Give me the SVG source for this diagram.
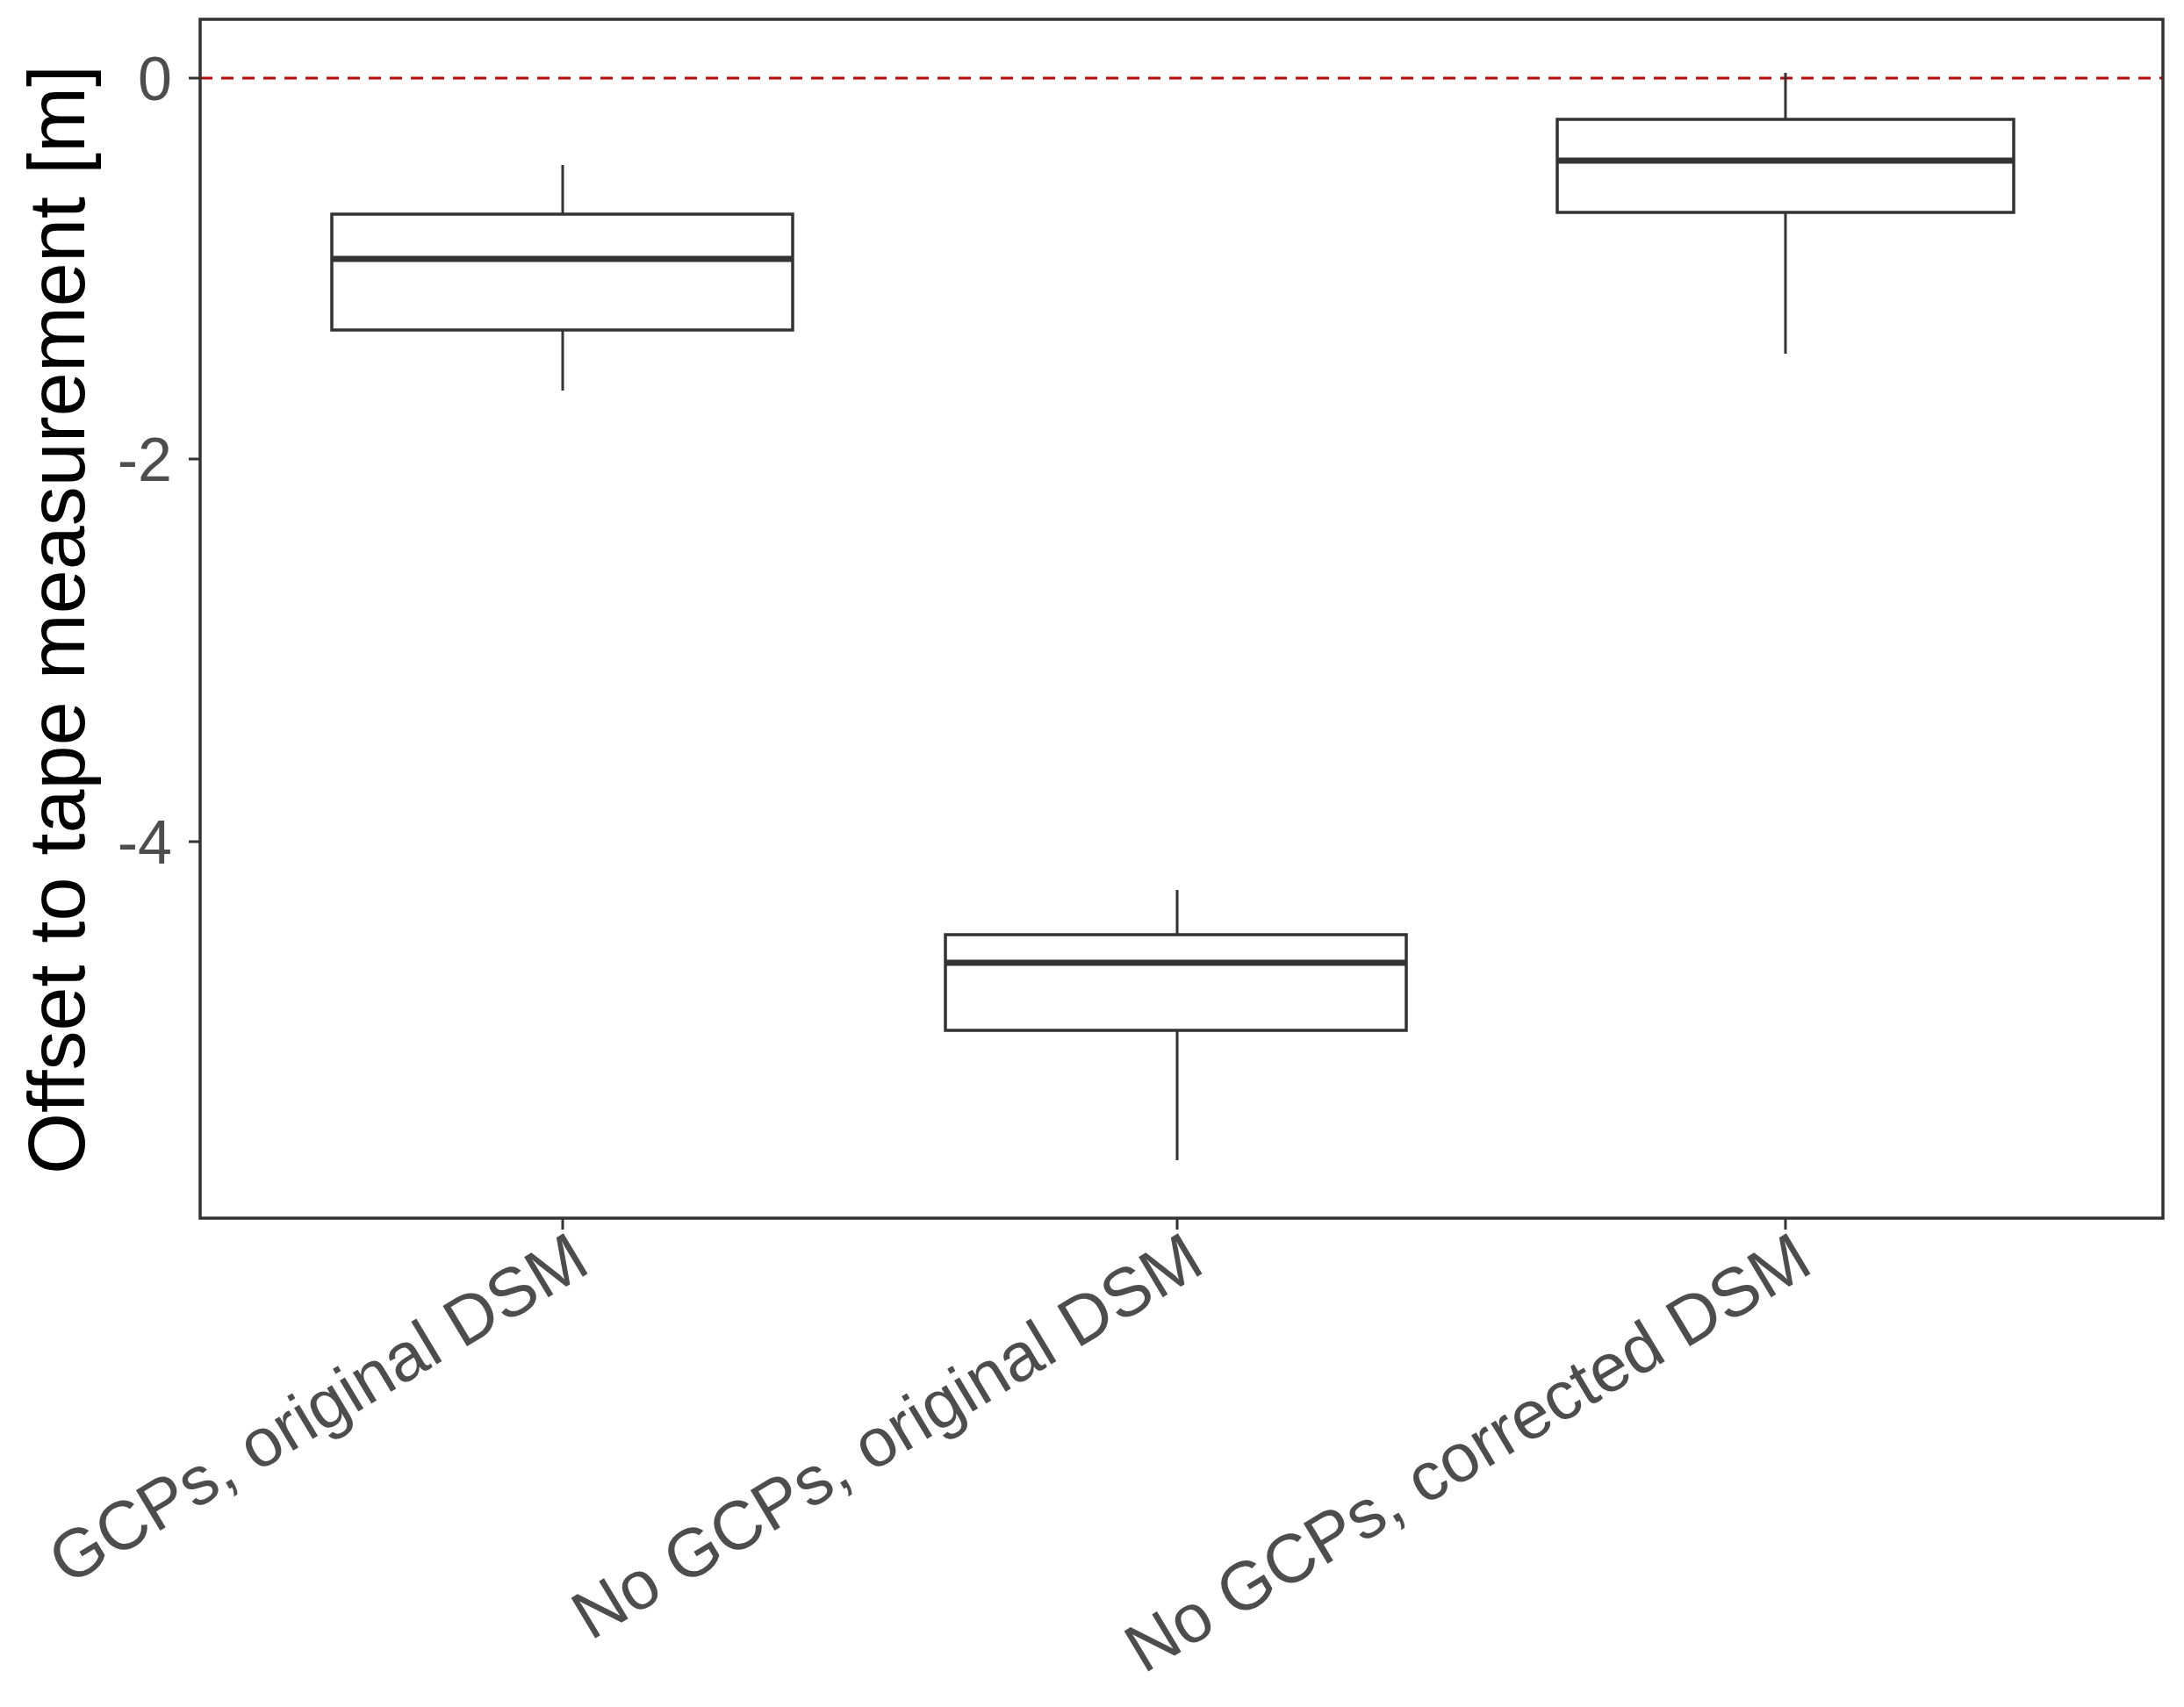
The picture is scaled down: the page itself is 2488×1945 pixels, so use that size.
<svg xmlns="http://www.w3.org/2000/svg" width="2488" height="1945" viewBox="0 0 2488 1945">
<style>
.box{fill:#fff;stroke:#333;stroke-width:3.5}
.med{stroke:#333;stroke-width:7}
.wh{stroke:#333;stroke-width:3}
.tk{stroke:#333;stroke-width:3}
.tl{font-family:"Liberation Sans",Arial,sans-serif;font-size:70px;fill:#4d4d4d}
.xl{font-family:"Liberation Sans",Arial,sans-serif;font-size:78px;fill:#4d4d4d}
</style>
<rect width="2488" height="1945" fill="#fff"/>
<line x1="228" y1="89" x2="2464" y2="89" stroke="#cc0000" stroke-width="3" stroke-dasharray="14,10"/>
<g id="box1">
<line class="wh" x1="641" y1="188" x2="641" y2="244"/><line class="wh" x1="641" y1="376" x2="641" y2="445"/>
<rect class="box" x="378" y="244" width="525" height="132"/><line class="med" x1="378" y1="295" x2="903" y2="295"/>
</g>
<g id="box2">
<line class="wh" x1="1341" y1="1014" x2="1341" y2="1065"/><line class="wh" x1="1341" y1="1174" x2="1341" y2="1322"/>
<rect class="box" x="1077" y="1065" width="525" height="109"/><line class="med" x1="1077" y1="1097" x2="1602" y2="1097"/>
</g>
<g id="box3">
<line class="wh" x1="2034" y1="83" x2="2034" y2="136"/><line class="wh" x1="2034" y1="242" x2="2034" y2="403"/>
<rect class="box" x="1774" y="136" width="520" height="106"/><line class="med" x1="1774" y1="183" x2="2294" y2="183"/>
</g>
<rect x="228" y="22" width="2236" height="1366" fill="none" stroke="#333" stroke-width="3.5"/>
<g id="axes">
<line class="tk" x1="215" y1="89" x2="228" y2="89"/><line class="tk" x1="215" y1="523" x2="228" y2="523"/><line class="tk" x1="215" y1="959" x2="228" y2="959"/>
<line class="tk" x1="641" y1="1388" x2="641" y2="1401"/><line class="tk" x1="1341" y1="1388" x2="1341" y2="1401"/><line class="tk" x1="2034" y1="1388" x2="2034" y2="1401"/>
<text class="tl" x="196" y="114" text-anchor="end">0</text>
<text class="tl" x="196" y="548" text-anchor="end">-2</text>
<text class="tl" x="196" y="984" text-anchor="end">-4</text>
<text class="xl" text-anchor="end" transform="translate(675,1448) rotate(-31)">GCPs, original DSM</text>
<text class="xl" text-anchor="end" transform="translate(1375,1448) rotate(-31)">No GCPs, original DSM</text>
<text class="xl" text-anchor="end" transform="translate(2068,1448) rotate(-31)">No GCPs, corrected DSM</text>
<text font-family="Liberation Sans,Arial,sans-serif" font-size="90" fill="#000" text-anchor="middle" transform="translate(96,706) rotate(-90)">Offset to tape measurement [m]</text>
</g>
</svg>
